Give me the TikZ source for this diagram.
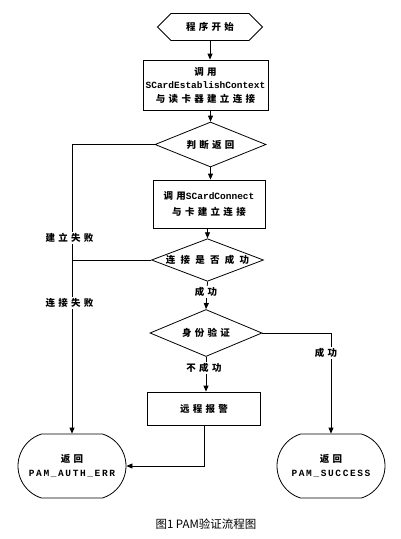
\documentclass[tikz,border=0pt]{standalone}
\usepackage{fontspec}
\usetikzlibrary{shapes.geometric,shapes.misc,shapes.symbols,arrows.meta}
\newfontfamily\cjk[LetterSpace=35]{Noto Sans CJK SC}
\newfontfamily\cjkw[LetterSpace=55]{Noto Sans CJK SC}
\newfontfamily\cjkcap{Noto Sans CJK SC}
\newfontfamily\mono{Liberation Mono}
\newfontfamily\monosp[LetterSpace=17]{Liberation Mono}
\tikzset{
  base/.style={draw, line width=0.8pt, inner sep=0pt, align=center,
    font=\fontsize{9.5}{13.5}\selectfont\bfseries},
  startsh/.style={base, shape=signal, signal to=west and east,
    minimum width=105pt, minimum height=27pt},
  procbox/.style={base, rectangle},
  decision/.style={base, diamond, aspect=2.5},
  terminal/.style={base, rounded rectangle, rounded rectangle arc length=145,
    minimum width=108pt, minimum height=64pt},
  lbl/.style={fill=white, inner sep=1pt, font=\fontsize{9.5}{12}\selectfont\bfseries\cjk},
  arr/.style={line width=0.8pt, -{Triangle[length=6pt,width=5pt]}},
  ln/.style={line width=0.8pt}
}
\begin{document}
\begin{tikzpicture}[x=1pt,y=-1pt]
\useasboundingbox (0,0) rectangle (401,539);
\node[startsh] (start) at (210,27) {\cjk 程序开始};
\node[procbox, minimum width=125pt, minimum height=50pt] (box1) at (205.5,85)
  {\cjk 调用\\ \mono SCardEstablishContext\\ \cjk 与读卡器建立连接};
\node[decision, minimum width=111pt, minimum height=45pt] (d1) at (210.5,144.5) {\cjk 判断返回};
\node[procbox, minimum width=112pt, minimum height=48pt, font=\fontsize{9.5}{16}\selectfont\bfseries] (box2) at (209,204)
  {{\cjk 调用}{\mono SCardConnect}\\ \cjk 与卡建立连接};
\node[decision, minimum width=112pt, minimum height=36pt] (d2) at (207.5,260) {\cjkw 连接是否成功};
\node[decision, minimum width=112pt, minimum height=47pt] (d3) at (206,333) {\cjk 身份验证};
\node[procbox, minimum width=113pt, minimum height=33pt] (box3) at (204,408.5) {\cjk 远程报警};
\node[terminal, font=\fontsize{9.5}{14}\selectfont\bfseries] (term1) at (72,466) {\cjk 返回\\ \monosp PAM\_AUTH\_ERR};
\node[terminal, font=\fontsize{9.5}{14}\selectfont\bfseries] (term2) at (331,466) {\cjk 返回\\ \monosp PAM\_SUCCESS};

\draw[arr] (start.south) -- (start.south |- box1.north);
\draw[arr] (d1.north |- box1.south) -- (d1.north);
\draw[arr] (d1.south) -- (d1.south |- box2.north);
\draw[arr] (d2.north |- box2.south) -- (d2.north);
\draw[arr] (d2.south) -- (d3.north);
\draw[arr] (d3.south) -- (d3.south |- box3.north);
\draw[arr] (box3.south) |- (term1.east);
\draw[arr] (d1.west) -| (term1.north);
\draw[ln] (d2.west) -- (d2.west -| term1.north);
\draw[arr] (d3.east) -| (term2.north);

\node[lbl] (l1) at (69.5,238) {建立失败};
\node[lbl] (l2) at (69.5,303) {连接失败};
\node[lbl] (l3) at (206,292) {成功};
\node[lbl] (l4) at (204,368) {不成功};
\node[lbl] (l5) at (326,353) {成功};
\node[font=\fontsize{11.5}{13}\selectfont] (cap) at (206,524) {\cjkcap 图1 PAM验证流程图};
\end{tikzpicture}
\end{document}
